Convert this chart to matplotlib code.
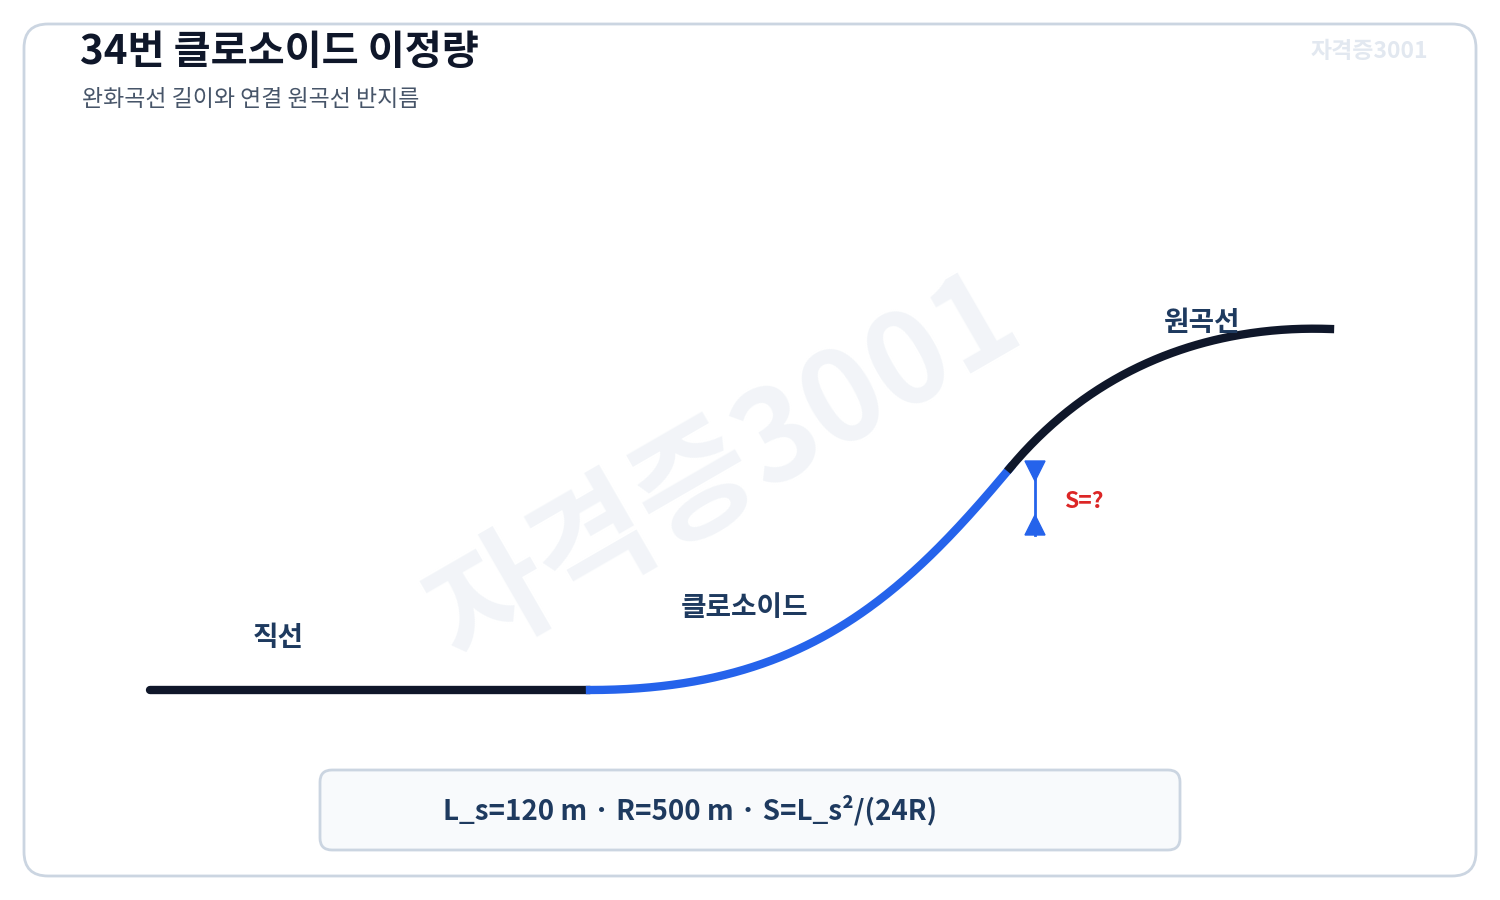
import matplotlib
matplotlib.use("Agg")
import matplotlib.pyplot as plt
import numpy as np
from matplotlib.patches import FancyBboxPatch

plt.rcParams['font.family'] = ['Noto Sans CJK KR', 'DejaVu Sans']

title = "34번 클로소이드 이정량"
subtitle = "완화곡선 길이와 연결 원곡선 반지름"
labels = ["직선", "클로소이드", "원곡선"]
Ls = 120
R = 500
formula = f"L_s={Ls} m · R={R} m · S=L_s²/(24R)"

# path control points (pixel space)
straight = [(150, 690), (590, 690)]
clothoid = [(590, 690), (800, 690), (900, 600), (1010, 468)]
arc = [(1010, 468), (1100, 360), (1220, 325), (1330, 329)]

def bez(p):
    t = np.linspace(0, 1, 200)[:, None]
    p = np.array(p, float)
    return ((1-t)**3*p[0] + 3*(1-t)**2*t*p[1] + 3*(1-t)*t**2*p[2] + t**3*p[3])

fig = plt.figure(figsize=(15, 9), dpi=100)
ax = fig.add_axes([0, 0, 1, 1])
ax.set_xlim(0, 1500); ax.set_ylim(900, 0); ax.axis('off')

ax.add_patch(FancyBboxPatch((24, 24), 1452, 852, boxstyle="round,pad=0,rounding_size=24",
                            fc='white', ec='#cbd5e1', lw=2))
ax.text(725, 470, "자격증3001", fontsize=92, fontweight='bold', color='#e2e8f0', alpha=0.45,
        rotation=30, ha='center', va='center')

ax.text(80, 53, title, fontsize=29, fontweight='bold', color='#0f172a', va='center')
ax.text(82, 99, subtitle, fontsize=16.5, color='#475569', va='center')
ax.text(1428, 51, "자격증3001", fontsize=16.5, fontweight='bold', color='#e2e8f0', ha='right', va='center')

s = np.array(straight)
ax.plot(s[:, 0], s[:, 1], color='#0f172a', lw=6, solid_capstyle='round')
c = bez(clothoid)
ax.plot(c[:, 0], c[:, 1], color='#2563eb', lw=6)
a = bez(arc)
ax.plot(a[:, 0], a[:, 1], color='#0f172a', lw=6)

ax.plot([1035, 1035], [462, 535], color='#2563eb', lw=2)
ax.fill([1025, 1045, 1035], [461, 461, 481], color='#2563eb')
ax.fill([1025, 1045, 1035], [535, 535, 515], color='#2563eb')
ax.text(1064, 501, "S=?", fontsize=16.5, fontweight='bold', color='#dc2626', va='center')

ax.text(278, 638, labels[0], fontsize=20, fontweight='bold', color='#1e3a5f', ha='center', va='center')
ax.text(745, 608, labels[1], fontsize=20, fontweight='bold', color='#1e3a5f', ha='center', va='center')
ax.text(1202, 323, labels[2], fontsize=20, fontweight='bold', color='#1e3a5f', ha='center', va='center')

ax.add_patch(FancyBboxPatch((320, 770), 860, 80, boxstyle="round,pad=0,rounding_size=12",
                            fc='#f8fafc', ec='#cbd5e1', lw=2))
ax.text(690, 810, formula, fontsize=20, fontweight='bold', color='#1e3a5f', ha='center', va='center')

fig.savefig("out.png", dpi=100)
